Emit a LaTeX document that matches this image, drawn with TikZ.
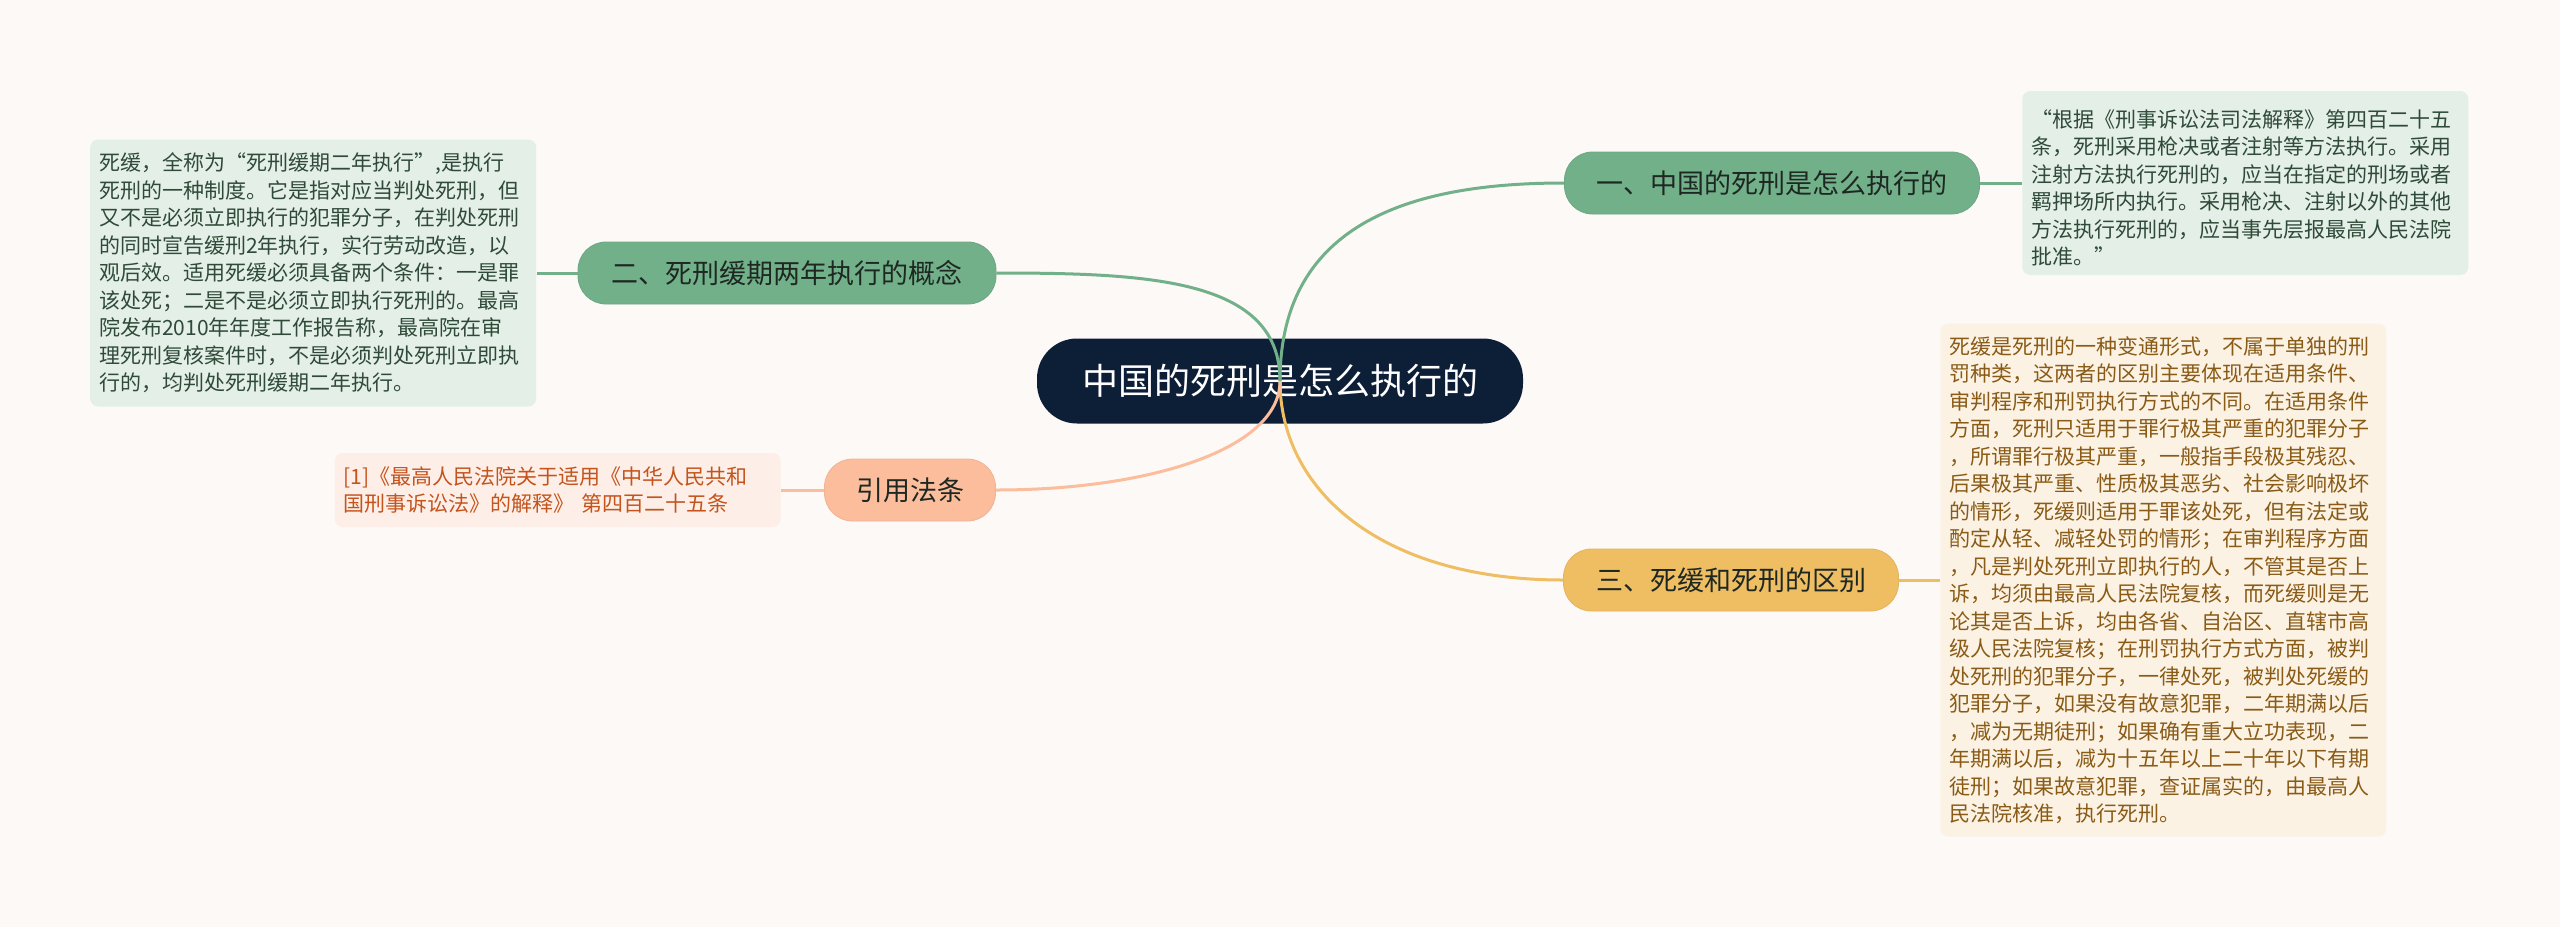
\documentclass[tikz,border=0pt]{standalone}
\usepackage{fontspec}
\setmainfont{Noto Sans CJK SC}
\usepackage{xcolor}
\usepackage{tikz}
\usetikzlibrary{positioning}
\definecolor{bgc}{HTML}{FDF9F7}
\definecolor{rootc}{HTML}{0D1E37}
\definecolor{grn}{HTML}{72B08A}
\definecolor{yel}{HTML}{EFBD62}
\definecolor{pch}{HTML}{FBBD9C}
\definecolor{lgrn}{HTML}{E4EFE7}
\definecolor{lyel}{HTML}{FBF2E4}
\definecolor{lpch}{HTML}{FDEFE7}
\definecolor{tgrn}{HTML}{2F4A38}
\definecolor{tyel}{HTML}{8A5B16}
\definecolor{tpch}{HTML}{C4531C}
\definecolor{tdark}{HTML}{1E2822}
\tikzset{
  rootbox/.style={rectangle,fill=rootc,rounded corners=20pt,text=white,
    minimum width=243pt,minimum height=42.5pt,inner sep=0pt,
    font=\fontsize{18}{22}\selectfont},
  topic/.style={rectangle,rounded corners=14pt,text=tdark,inner sep=0pt,
    minimum height=31pt,font=\fontsize{13.5}{16}\selectfont},
  leaf/.style={rectangle,rounded corners=4pt,align=left,text width=214pt,
    inner xsep=4.5pt,inner ysep=0pt,font=\fontsize{10.5}{13.75}\selectfont},
  br/.style={line width=1.5pt},
}

\begin{document}
\begin{tikzpicture}[x=0.5pt,y=-0.5pt]
  \fill[bgc] (0,0) rectangle (2560,927);
  \useasboundingbox (0,0) rectangle (2560,927);
  % main topic and branches
  \node[rootbox] (root) at (1280,381) {中国的死刑是怎么执行的};
  \node[topic,fill=grn,draw=grn!95!black,minimum width=207.5pt] (b1) at (1772,183) {一、中国的死刑是怎么执行的};
  \node[topic,fill=grn,draw=grn!95!black,minimum width=209pt] (b2) at (787,273) {二、死刑缓期两年执行的概念};
  \node[topic,fill=yel,draw=yel!95!black,minimum width=167.5pt] (b3) at (1731,580) {三、死缓和死刑的区别};
  \node[topic,fill=pch,draw=pch!95!black,minimum width=85.5pt] (b4) at (910,490) {引用法条};
  % details
  \node[leaf,fill=lgrn,text=tgrn,minimum height=92pt,right=21pt of b1] (l1) {\hspace{0.4em}“根据《刑事诉讼法司法解释》第四百二十五\\
条，死刑采用枪决或者注射等方法执行。采用\\
注射方法执行死刑的，应当在指定的刑场或者\\
羁押场所内执行。采用枪决、注射以外的其他\\
方法执行死刑的，应当事先层报最高人民法院\\
批准。”};
  \node[leaf,fill=lgrn,text=tgrn,minimum height=133.5pt,left=20.5pt of b2] (l2) {死缓，全称为“死刑缓期二年执行”,是执行\\
死刑的一种制度。它是指对应当判处死刑，但\\
又不是必须立即执行的犯罪分子，在判处死刑\\
的同时宣告缓刑2年执行，实行劳动改造，以\\
观后效。适用死缓必须具备两个条件：一是罪\\
该处死；二是不是必须立即执行死刑的。最高\\
院发布2010年年度工作报告称，最高院在审\\
理死刑复核案件时，不是必须判处死刑立即执\\
行的，均判处死刑缓期二年执行。};
  \node[leaf,fill=lyel,text=tyel,minimum height=256.5pt,right=20.5pt of b3] (l3) {死缓是死刑的一种变通形式，不属于单独的刑\\
罚种类，这两者的区别主要体现在适用条件、\\
审判程序和刑罚执行方式的不同。在适用条件\\
方面，死刑只适用于罪行极其严重的犯罪分子\\
，所谓罪行极其严重，一般指手段极其残忍、\\
后果极其严重、性质极其恶劣、社会影响极坏\\
的情形，死缓则适用于罪该处死，但有法定或\\
酌定从轻、减轻处罚的情形；在审判程序方面\\
，凡是判处死刑立即执行的人，不管其是否上\\
诉，均须由最高人民法院复核，而死缓则是无\\
论其是否上诉，均由各省、自治区、直辖市高\\
级人民法院复核；在刑罚执行方式方面，被判\\
处死刑的犯罪分子，一律处死，被判处死缓的\\
犯罪分子，如果没有故意犯罪，二年期满以后\\
，减为无期徒刑；如果确有重大立功表现，二\\
年期满以后，减为十五年以上二十年以下有期\\
徒刑；如果故意犯罪，查证属实的，由最高人\\
民法院核准，执行死刑。};
  \node[leaf,fill=lpch,text=tpch,minimum height=37pt,left=21.5pt of b4] (l4) {[1]《最高人民法院关于适用《中华人民共和\\
国刑事诉讼法》的解释》 第四百二十五条};
  % connectors
  \draw[br,grn] (root.center) .. controls +(0,-162) and +(-146,0) .. (b1.west);
  \draw[br,grn] (root.center) .. controls +(0,-102) and +(154,0) .. (b2.east);
  \draw[br,yel] (root.center) .. controls +(0,108) and +(-184,0) .. (b3.west);
  \draw[br,pch] (root.center) .. controls +(0,68) and +(154,0) .. (b4.east);
  \draw[br,grn] (b1.east) -- (l1.west);
  \draw[br,grn] (b2.west) -- (l2.east);
  \draw[br,yel] (b3.east) -- (l3.west);
  \draw[br,pch] (b4.west) -- (l4.east);
\end{tikzpicture}
\end{document}
